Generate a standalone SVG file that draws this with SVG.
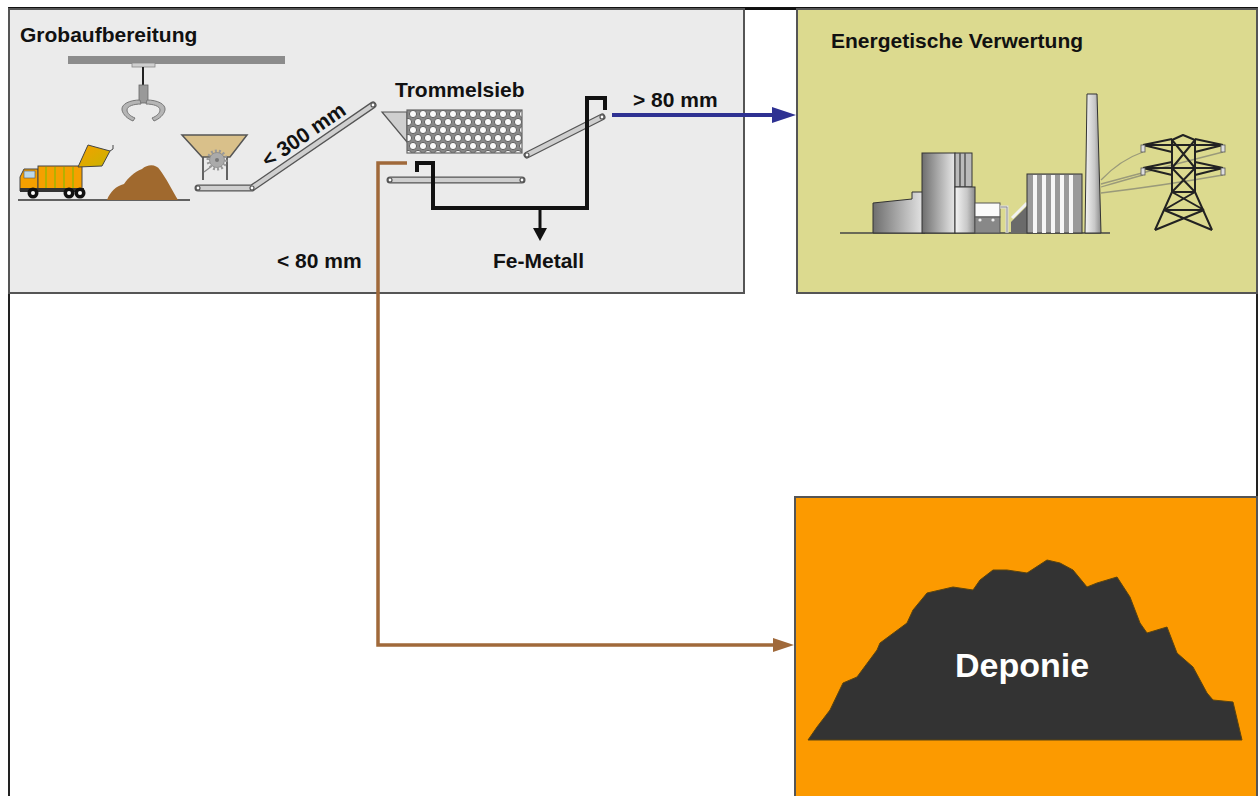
<svg xmlns="http://www.w3.org/2000/svg" width="1260" height="796" viewBox="0 0 1260 796">
<defs>
<style>
.t{font-family:"Liberation Sans",Arial,Helvetica,sans-serif;font-weight:bold;font-size:21px;fill:#111}
.conv-o{stroke:#555;stroke-width:7;stroke-linecap:round;fill:none}
.conv-i{stroke:#cfcfcf;stroke-width:4.5;stroke-linecap:round;fill:none}
.roll{fill:#fff;stroke:#555;stroke-width:1.2}
.pyl{stroke:#222;stroke-width:2;fill:none;stroke-linejoin:round}
.wire{stroke:#9a9a7a;stroke-width:1.3;fill:none}
</style>
<linearGradient id="gb" x1="0" y1="0" x2="1" y2="0">
<stop offset="0" stop-color="#6e6e6e"/><stop offset="1" stop-color="#e8e8e8"/>
</linearGradient>
<linearGradient id="gc" x1="0" y1="0" x2="1" y2="0">
<stop offset="0" stop-color="#f4f4f4"/><stop offset="0.6" stop-color="#c8c8c8"/><stop offset="1" stop-color="#8a8a8a"/>
</linearGradient>
<linearGradient id="gtruck" x1="0" y1="0" x2="1" y2="1">
<stop offset="0" stop-color="#f5a000"/><stop offset="1" stop-color="#c8b400"/>
</linearGradient>
<pattern id="holes" x="408" y="110" width="10" height="16" patternUnits="userSpaceOnUse">
<rect width="10" height="16" fill="#8a8a8a"/>
<circle cx="5" cy="4" r="3.6" fill="#fafafa" stroke="#555" stroke-width="0.9"/>
<circle cx="0" cy="12" r="3.6" fill="#fafafa" stroke="#555" stroke-width="0.9"/>
<circle cx="10" cy="12" r="3.6" fill="#fafafa" stroke="#555" stroke-width="0.9"/>
</pattern>
</defs>

<rect x="0" y="0" width="1260" height="796" fill="#fff"/>
<rect x="9" y="8" width="1248" height="800" fill="none" stroke="#222" stroke-width="2"/>
<line x1="9" y1="8.5" x2="1257" y2="8.5" stroke="#111" stroke-width="3"/>

<g id="grobaufbereitung">
<rect x="9" y="9" width="735" height="284" fill="#ebebeb" stroke="#555" stroke-width="2"/>
<text class="t" x="20" y="42">Grobaufbereitung</text>
<!-- crane -->
<rect x="68" y="56" width="217" height="8" fill="#8c8c8c"/>
<rect x="132" y="63" width="23" height="4" fill="#d0d0d0" stroke="#888" stroke-width="0.8"/>
<line x1="143" y1="67" x2="143" y2="86" stroke="#222" stroke-width="2"/>
<rect x="139" y="85" width="9" height="18" fill="#999" stroke="#666" stroke-width="0.8"/>
<path d="M140,100 C130,100 121,104 122,110 C123,115 128,119 133,121 L135,118 C130,116 127,113 127,110 C127,106 134,104 141,104 Z" fill="#b5b5b5" stroke="#777" stroke-width="1"/>
<path d="M147,100 C157,100 166,104 165,110 C164,115 159,119 154,121 L152,118 C157,116 160,113 160,110 C160,106 153,104 146,104 Z" fill="#b5b5b5" stroke="#777" stroke-width="1"/>
<!-- truck -->
<line x1="18" y1="200" x2="190" y2="200" stroke="#333" stroke-width="1.5"/>
<path d="M20,191 L20,177 L24,169 L38,169 L38,191 Z" fill="#f5a000" stroke="#444" stroke-width="1"/>
<rect x="24" y="171" width="11" height="7" fill="#bcd8e8" stroke="#555" stroke-width="0.6"/>
<rect x="38" y="166" width="44" height="24" fill="#f5a000" stroke="#444" stroke-width="1"/>
<g stroke="#b5b000" stroke-width="2">
<line x1="46" y1="167" x2="46" y2="189"/><line x1="55" y1="167" x2="55" y2="189"/><line x1="64" y1="167" x2="64" y2="189"/><line x1="73" y1="167" x2="73" y2="189"/>
</g>
<polygon points="78,167 88,145 110,151 102,166" fill="url(#gtruck)" stroke="#444" stroke-width="1"/>
<path d="M110,151 L113,149 L113,145" fill="none" stroke="#444" stroke-width="1"/>
<rect x="20" y="188" width="64" height="4" fill="#333"/>
<circle cx="33" cy="193" r="5.5" fill="#111"/><circle cx="33" cy="193" r="2" fill="#fff"/>
<circle cx="69" cy="193" r="5.5" fill="#111"/><circle cx="69" cy="193" r="2" fill="#fff"/>
<circle cx="80" cy="193" r="5.5" fill="#111"/><circle cx="80" cy="193" r="2" fill="#fff"/>
<!-- waste pile -->
<path d="M107,200 C110,192 116,186 124,184 C128,178 134,172 142,169 C148,164 156,164 160,170 C166,178 172,190 178,200 Z" fill="#a0692e"/>
<!-- hopper -->
<polygon points="182,135 247,135 230,157 202,157" fill="#d9c08a" stroke="#555" stroke-width="1.5"/>
<line x1="203" y1="157" x2="203" y2="180" stroke="#555" stroke-width="1.8"/>
<line x1="227" y1="157" x2="227" y2="180" stroke="#555" stroke-width="1.8"/>
<path d="M204,172 L212,166" stroke="#888" stroke-width="1.2"/>
<circle cx="217" cy="160" r="9" fill="none" stroke="#999" stroke-width="3" stroke-dasharray="2,2"/>
<circle cx="217" cy="160" r="7.5" fill="#aaa" stroke="#888" stroke-width="0.8"/>
<circle cx="217" cy="160" r="2" fill="#777"/>
<!-- conveyors -->
<path class="conv-o" d="M198,188 L252,188 L373,105"/>
<path class="conv-i" d="M198,188 L252,188 L373,105"/>
<circle class="roll" cx="198" cy="188" r="2"/><circle class="roll" cx="252" cy="188" r="2"/><circle class="roll" cx="373" cy="105" r="2"/>
<text class="t" x="268" y="168" transform="rotate(-34.5 268 168)">&lt; 300 mm</text>
<!-- trommel -->
<polygon points="382,112 407,112 407,142" fill="#cfcfcf" stroke="#555" stroke-width="1.2"/>
<rect x="407" y="110" width="115" height="43" fill="url(#holes)" stroke="#666" stroke-width="1.2"/>
<text class="t" x="395" y="97">Trommelsieb</text>
<path class="conv-o" d="M527,155 L602,117"/>
<path class="conv-i" d="M527,155 L602,117"/>
<circle class="roll" cx="527" cy="155" r="2"/><circle class="roll" cx="602" cy="117" r="2"/>
<path class="conv-o" d="M390,180 L522,180"/>
<path class="conv-i" d="M390,180 L522,180"/>
<circle class="roll" cx="390" cy="180" r="2"/><circle class="roll" cx="522" cy="180" r="2"/>
<text class="t" x="493" y="268">Fe-Metall</text>
<text class="t" x="277" y="268">&lt; 80 mm</text>
<text class="t" x="633" y="107">&gt; 80 mm</text>
</g>

<g id="energetische-verwertung">
<rect x="797" y="9" width="460" height="284" fill="#dcda8f" stroke="#555" stroke-width="2"/>
<text class="t" x="831" y="48">Energetische Verwertung</text>
<line x1="840" y1="233" x2="1110" y2="233" stroke="#444" stroke-width="1.5"/>
<polygon points="873,233 873,203 912,199 912,192 925,192 925,233" fill="url(#gb)" stroke="#333" stroke-width="1"/>
<rect x="922" y="153" width="33" height="80" fill="url(#gb)" stroke="#333" stroke-width="1"/>
<rect x="955" y="153" width="17" height="34" fill="#bbb" stroke="#333" stroke-width="1"/>
<g stroke="#555" stroke-width="1.5"><line x1="960" y1="153" x2="960" y2="187"/><line x1="965" y1="153" x2="965" y2="187"/></g>
<rect x="955" y="187" width="20" height="46" fill="url(#gc)" stroke="#333" stroke-width="1"/>
<rect x="975" y="203" width="25" height="14" fill="#fafafa" stroke="#555" stroke-width="1"/>
<rect x="975" y="217" width="25" height="16" fill="#888" stroke="#555" stroke-width="1"/>
<circle cx="980" cy="220" r="1.6" fill="#eee"/><circle cx="993" cy="220" r="1.6" fill="#eee"/>
<path d="M1000,207 L1007,207 L1007,233" fill="none" stroke="#ddd" stroke-width="3"/>
<path d="M1000,207 L1007,207 L1007,233" fill="none" stroke="#666" stroke-width="0.6"/>
<polygon points="1011,233 1011,222 1027,206 1027,233" fill="#6a6a6a"/>
<line x1="1012" y1="218" x2="1027" y2="203" stroke="#f2f2f2" stroke-width="3"/>
<rect x="1027" y="174" width="55" height="59" fill="#9a9a9a" stroke="#333" stroke-width="1"/>
<g fill="#f6f6f6">
<rect x="1033" y="175" width="4" height="58"/><rect x="1042" y="175" width="4" height="58"/><rect x="1051" y="175" width="4" height="58"/><rect x="1060" y="175" width="4" height="58"/><rect x="1069" y="175" width="4" height="58"/>
</g>
<polygon points="1087,94 1097,94 1101,233 1085,233" fill="url(#gc)" stroke="#333" stroke-width="1"/>
<path class="wire" d="M1101,180 Q1120,160 1143,152"/>
<path class="wire" d="M1101,187 Q1125,180 1143,175"/>
<path class="wire" d="M1101,193 Q1160,186 1223,175"/>
<path class="wire" d="M1101,184 Q1160,168 1223,152"/>
<path class="pyl" d="M1155,230 L1172,192 L1172,140 L1183,135 L1195,140 L1195,192 L1212,230"/>
<path class="pyl" d="M1143,145 L1223,145 M1143,145 L1172,139 M1223,145 L1195,139 M1143,145 L1172,152 M1223,145 L1195,152"/>
<path class="pyl" d="M1143,168 L1223,168 M1143,168 L1172,162 M1223,168 L1195,162 M1143,168 L1172,175 M1223,168 L1195,175"/>
<path class="pyl" stroke-width="1.5" d="M1172,140 L1195,168 M1195,140 L1172,168 M1172,168 L1195,192 M1195,168 L1172,192 M1172,192 L1195,192 M1164,210 L1204,210 M1172,192 L1204,210 M1195,192 L1164,210 M1164,210 L1212,230 M1204,210 L1155,230"/>
<g fill="#ddd" stroke="#555" stroke-width="0.8">
<rect x="1141" y="145" width="4" height="7"/><rect x="1221" y="145" width="4" height="7"/>
<rect x="1141" y="168" width="4" height="7"/><rect x="1221" y="168" width="4" height="7"/>
</g>
</g>

<g id="deponie">
<rect x="795" y="497" width="462" height="310" fill="#fc9a00" stroke="#555" stroke-width="2"/>
<path d="M808,740 L817,727 L830,710 L843,683 L857,677 L877,650 L880,643 L907,623 L913,610 L927,593 L953,587 L973,590 L980,580 L993,570 L1007,570 L1027,573 L1047,560 L1060,563 L1073,570 L1087,587 L1097,583 L1117,577 L1130,597 L1140,623 L1147,633 L1167,627 L1177,653 L1193,667 L1207,693 L1213,700 L1233,702 L1242,740 Z" fill="#333333" stroke="#5a4410" stroke-width="1" stroke-linejoin="round"/>
<text x="1022" y="677" text-anchor="middle" style="font-family:'Liberation Sans',Arial,sans-serif;font-weight:bold;font-size:34px;fill:#fff">Deponie</text>
</g>

<g id="connectors">
<polyline points="417,172 417,163 433,163 433,208 587,208 587,98 605,98 605,110" fill="none" stroke="#111" stroke-width="4" stroke-linejoin="miter"/>
<line x1="540" y1="208" x2="540" y2="230" stroke="#111" stroke-width="3"/>
<polygon points="533,228 547,228 540,241" fill="#111"/>
<line x1="612" y1="115" x2="776" y2="115" stroke="#2e3192" stroke-width="4"/>
<polygon points="772,107 796,115 772,123" fill="#2e3192"/>
<polyline points="407,163 378,163 378,645 776,645" fill="none" stroke="#a0693a" stroke-width="3.5"/>
<polygon points="773,638 794,645 773,652" fill="#a0693a"/>
</g>
</svg>
